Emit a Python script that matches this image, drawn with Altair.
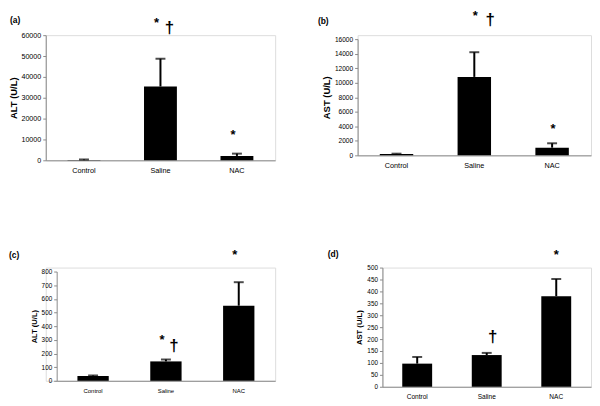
import altair as alt
import pandas as pd

categories = ["Control", "Saline", "NAC"]

# panel (a) ALT, panel (b) AST, panel (c) ALT, panel (d) AST : mean and SD (upper error)
a_mean = [100, 35400, 2100]
a_sd = [300, 13300, 1100]
b_mean = [200, 10800, 1060]
b_sd = [30, 3400, 600]
c_mean = [35, 142, 550]
c_sd = [4, 14, 172]
d_mean = [97, 133, 380]
d_sd = [28, 9, 72]

# significance marks: (group, symbol, height in data units)
a_marks = [("Saline", "*", 65700), ("Saline", "†", 63300), ("NAC", "*", 11900)]
b_marks = [("Saline", "*", 19150), ("Saline", "†", 18670), ("NAC", "*", 3690)]
c_marks = [("Saline", "*", 298), ("Saline", "†", 258), ("NAC", "*", 924)]
d_marks = [("Saline", "†", 210), ("NAC", "*", 554)]

# y-axis ticks
a_ticks = [0, 10000, 20000, 30000, 40000, 50000, 60000]
b_ticks = [0, 2000, 4000, 6000, 8000, 10000, 12000, 14000, 16000]
c_ticks = [0, 100, 200, 300, 400, 500, 600, 700, 800]
d_ticks = [0, 50, 100, 150, 200, 250, 300, 350, 400, 450, 500]

FONT = "Liberation Sans"
GRAY = "#8a8a8a"


def panel(label, ytitle, means, sds, marks, ticks, w, h, lab_fs, xlab_fs, title_fs,
          label_dx, label_dy, star_dx, dag_dx, xlab_pad, title_pad,
          left=0, top=0):
    df = pd.DataFrame({"group": categories, "mean": means, "sd": sds})
    df["hi"] = df["mean"] + df["sd"]
    ann = pd.DataFrame(marks, columns=["group", "symbol", "pos"])

    xscale = alt.Scale(paddingInner=0.57, paddingOuter=0.285, range=[left, w])
    xaxis = alt.Axis(title=None, labelAngle=0, ticks=False, domainColor=GRAY,
                     domainWidth=1, labelFont=FONT, labelFontSize=xlab_fs,
                     labelColor="black", labelPadding=xlab_pad)
    yscale = alt.Scale(domain=[0, ticks[-1]], nice=False, range=[h, top])
    yaxis = alt.Axis(title=ytitle, values=ticks, format="d", grid=False,
                     labelOverlap=False, domainColor=GRAY, tickColor=GRAY,
                     tickSize=3, labelFont=FONT, labelFontSize=lab_fs,
                     labelColor="black", labelPadding=2, titleFont=FONT,
                     titleFontSize=title_fs, titleFontWeight="bold",
                     titleColor="black", titlePadding=title_pad, offset=-left)

    def X():
        return alt.X("group:N", sort=categories, scale=xscale, axis=xaxis)

    def Y(field):
        return alt.Y(field, type="quantitative", scale=yscale, axis=yaxis)

    base = alt.Chart(df)
    bars = base.mark_bar(color="black").encode(x=X(), y=Y("mean"))
    err = base.mark_rule(color="black", strokeWidth=2).encode(
        x=X(), y=Y("mean"), y2="hi:Q")
    cap = base.mark_tick(color="black", size=10, thickness=2).encode(
        x=X(), y=Y("hi"))

    star = alt.Chart(ann).transform_filter(alt.datum.symbol == "*").mark_text(
        font=FONT, fontSize=13, fontWeight="bold", color="black",
        baseline="middle", dx=star_dx).encode(
        x=X(), y=Y("pos"), text="symbol:N")
    dag = alt.Chart(ann).transform_filter(alt.datum.symbol == "†").mark_text(
        font=FONT, fontSize=17, fontWeight="bold", color="black",
        baseline="middle", dx=dag_dx).encode(
        x=X(), y=Y("pos"), text="symbol:N")

    tag = alt.Chart(pd.DataFrame({"t": [label]})).mark_text(
        font=FONT, fontSize=8.5, fontWeight="bold", color="black",
        align="left", baseline="middle").encode(
        text="t:N", x=alt.value(label_dx), y=alt.value(label_dy))

    return alt.layer(bars, err, cap, star, dag, tag).properties(width=w, height=h)


pa = panel("(a)", "ALT (U/L)", a_mean, a_sd, a_marks, a_ticks, 231, 126,
           7.2, 7.3, 9.5, -36, -15, -4, 9, 6, 2)
pb = panel("(b)", "AST (U/L)", b_mean, b_sd, b_marks, b_ticks, 235, 121,
           6.6, 7.3, 9.5, -40, -14, 1, 16, 6, 3, top=4)
pc = panel("(c)", "ALT (U/L)", c_mean, c_sd, c_marks, c_ticks, 231, 114,
           6.4, 6.0, 7.6, -37, -13, -4, 8, 7, 3, left=11, top=4)
pd_ = panel("(d)", "AST (U/L)", d_mean, d_sd, d_marks, d_ticks, 210, 120,
            6.4, 6.6, 7.7, -55, -14, 0, 6, 7, 3)

row1 = alt.hconcat(pa, pb, spacing=83, bounds="flush")
row2 = alt.hconcat(pc, pd_, spacing=108, bounds="flush")

chart = alt.vconcat(row1, row2, spacing=74).properties(
    padding={"left": 0, "top": 0, "right": 0, "bottom": 0}
).configure_view(strokeWidth=0).configure(background="white")

chart.save("out.html", embed_options={"renderer": "svg", "actions": False})
